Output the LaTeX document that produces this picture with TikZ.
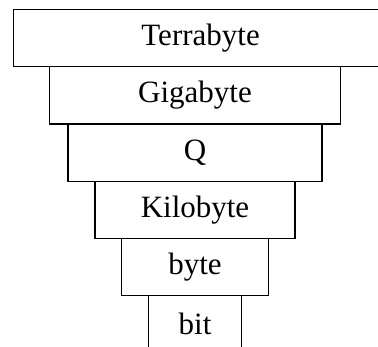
\documentclass[tikz,border=0pt]{standalone}
\usepackage{fontspec}
\setmainfont{Liberation Serif}
\usepackage{tikz}
\usetikzlibrary{positioning}

\begin{document}
\begin{tikzpicture}[
x=1pt, y=1pt,
level/.style={
		draw=black,
		line width=1.2pt,
		rectangle,
		inner sep=0pt,
		minimum height=57.2pt,
		anchor=north,
		text centered,
		font=\fontsize{31}{36}\selectfont,
		}
]

\def \h {57.2}
\def \ytop {9}
\def \xmid {195}

\useasboundingbox (0,0) rectangle (378,-347);
\clip (0,0) rectangle (378,-347);

% widest level runs off the right edge
\node[level, text width=420pt, align=left, anchor=north west] (terra) at (13,-\ytop) {\makebox[374pt]{Terrabyte}};

\foreach \name/\lbl/\w [count=\i] in {giga/Gigabyte/291, q/Q/254, kilo/Kilobyte/200, byte/byte/147, bit/bit/93}
{
  \node[level, minimum width=\w pt] (\name) at (\xmid,{-\ytop-\h*\i}) {\lbl};
}
\end{tikzpicture}
\end{document}
